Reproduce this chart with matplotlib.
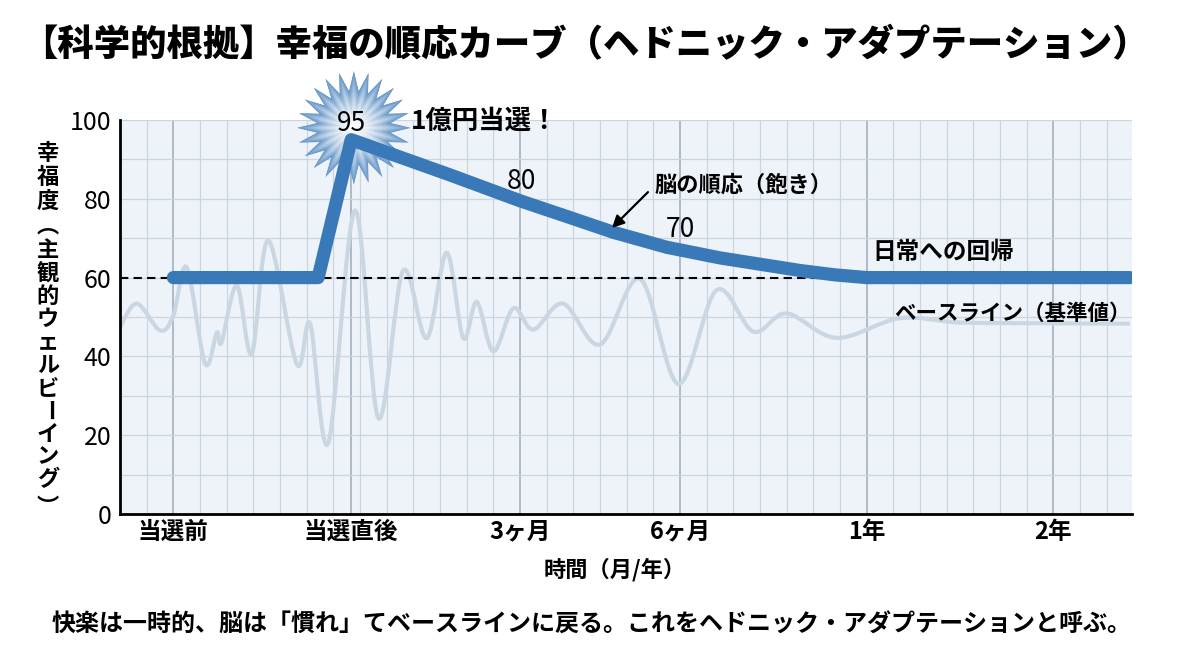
import numpy as np
import matplotlib
matplotlib.use("Agg")
import matplotlib.pyplot as plt
from matplotlib.path import Path
from matplotlib.patches import PathPatch, Polygon
from matplotlib.transforms import ScaledTranslation
from matplotlib.colors import to_rgb

plt.rcParams['font.family'] = ['Noto Sans CJK JP', 'DejaVu Sans']

# x is measured in light grid columns, 0 = "当選前"
tick_pos = [0, 6.67, 13, 19, 26, 33]
tick_labels = ["当選前", "当選直後", "3ヶ月", "6ヶ月", "1年", "2年"]

# main happiness curve
curve_x = [0, 5.43, 6.67, 10.4, 13, 14.76, 16.5, 18.5, 20.5, 23.5, 24.8, 26, 35.87]
curve_y = [60, 60, 95, 86.0, 79.5, 75.5, 71.5, 67.7, 65.0, 61.8, 60.7, 60, 60]

# faint daily fluctuation in the background
noise_x = [-2.0, -1.37, -0.5, 0, 0.5, 1.19, 1.63, 1.81, 2.38, 2.94, 3.56, 4.63,
           5.13, 5.81, 6.81, 7.69, 8.61, 9.5, 10.25, 10.87, 11.38, 12.0, 12.75,
           13.5, 14.62, 16.0, 17.5, 18.94, 20.37, 21.75, 23.0, 24.87, 27.25,
           29.5, 32.87, 35.87]
noise_y = [47.4, 53.4, 46.6, 50.4, 62.6, 38.2, 46, 43.6, 58, 40.7, 69.4, 38,
           48.3, 18, 77, 24.3, 61.7, 44.6, 66.3, 44.7, 53.8, 41.3, 52.2, 46.8,
           53.4, 43, 59.7, 33, 56.8, 46.3, 50.9, 44.7, 49.7, 48.6, 48.4, 48.3]

baseline = 60
peak_x, peak_y = 6.67, 95

BLUE = "#3a79b7"
GRID = "#cbd5df"


def smooth_path(xs, ys):
    # catmull-rom -> cubic bezier, so the wiggle is drawn smooth
    pts = np.column_stack([xs, ys]).astype(float)
    p = np.vstack([pts[0], pts, pts[-1]])
    verts = [pts[0]]
    codes = [Path.MOVETO]
    for i in range(1, len(p) - 2):
        c1 = p[i] + (p[i + 1] - p[i - 1]) / 6
        c2 = p[i + 1] - (p[i + 2] - p[i]) / 6
        verts += [c1, c2, p[i + 1]]
        codes += [Path.CURVE4] * 3
    return Path(verts, codes)


fig = plt.figure(figsize=(12, 6.55), dpi=100)
ax = fig.add_axes([0.1, 0.2153, 0.8433, 0.6015])
ax.set_facecolor("#edf3f9")
ax.set_xlim(-2, 35.95)
ax.set_ylim(0, 100)

ax.set_xticks(tick_pos)
ax.set_xticklabels(tick_labels, fontsize=17, fontweight="bold")
ax.set_xticks(np.arange(-2, 36), minor=True)
ax.set_yticks(np.arange(0, 101, 20))
ax.set_yticks(np.arange(0, 101, 10), minor=True)
ax.tick_params(which="both", length=0)
ax.tick_params(axis="x", pad=4)
ax.tick_params(axis="y", pad=6, labelsize=18)
ax.grid(which="minor", color=GRID, lw=0.9)
ax.grid(which="major", axis="y", color=GRID, lw=0.9)
ax.grid(which="major", axis="x", color="#9eabb8", lw=1.1)
ax.set_axisbelow(True)
for s in ("top", "right"):
    ax.spines[s].set_visible(False)
for s in ("left", "bottom"):
    ax.spines[s].set_linewidth(2)
    ax.spines[s].set_color("black")

ax.add_patch(PathPatch(smooth_path(noise_x, noise_y), fill=False,
                       edgecolor="#cad7e3", lw=3, zorder=2))

ax.plot([-2, 26], [baseline, baseline], color="black", lw=1.5,
        dashes=(4, 2.5), zorder=3)

# starburst behind the peak
n_sp = 24
ang = np.linspace(0, 2 * np.pi, 2 * n_sp, endpoint=False) + np.pi / 2
rad = np.where(np.arange(2 * n_sp) % 2 == 0, 0.57, 0.37)
star = np.column_stack([rad * np.cos(ang), rad * np.sin(ang)])
star_tr = fig.dpi_scale_trans + ScaledTranslation(peak_x + 0.1, 98.0, ax.transData)
tip = np.array(to_rgb("#6596c8"))
white = np.array([1.0, 1.0, 1.0])
steps = 40
for k in range(steps):
    s = 1 - k / steps
    t = s ** 1.5
    col = white * (1 - t) + tip * t
    ax.add_patch(Polygon(star * s, closed=True, facecolor=col, edgecolor="none",
                         transform=star_tr, clip_on=False, zorder=3.5))

ax.plot(curve_x, curve_y, color=BLUE, lw=9.5, solid_capstyle="round",
        solid_joinstyle="round", zorder=5)

ax.text(peak_x, 99.0, "95", fontsize=19, ha="center", va="center", zorder=6)
ax.text(8.91, 99.7, "1億円当選！", fontsize=19, fontweight="bold", ha="left",
        va="center", clip_on=False, zorder=6)
ax.text(13.07, 84.3, "80", fontsize=19, ha="center", va="center", zorder=6)
ax.text(19.0, 72.1, "70", fontsize=19, ha="center", va="center", zorder=6)
ax.text(18.06, 83.5, "脳の順応（飽き）", fontsize=16, fontweight="bold",
        ha="left", va="center", zorder=6)
ax.annotate("", xy=(16.45, 72.6), xytext=(17.8, 81.7),
            arrowprops=dict(arrowstyle="-|>", color="black", lw=1.6,
                            mutation_scale=18, shrinkA=0, shrinkB=0), zorder=6)
ax.text(26.2, 66.5, "日常への回帰", fontsize=17, fontweight="bold",
        ha="left", va="center", zorder=6)
ax.text(35.9, 51.0, "ベースライン（基準値）", fontsize=15.5, fontweight="bold",
        ha="right", va="center", zorder=6)

# vertical y label, one character at a time (vertical forms for the brackets)
ylab = ["幸", "福", "度", "︵", "主", "観", "的", "ウ", "ェ", "ル", "ビ", "ー",
        "イ", "ン", "グ", "︶"]
ylab_py = [153, 177, 201, 226] + [251 + 22.9 * i for i in range(11)] + [508]
for ch, py in zip(ylab, ylab_py):
    fig.text(48 / 1200, 1 - py / 655, ch, fontsize=16, fontweight="bold",
             ha="center", va="center", rotation=-90 if ch == "ー" else 0)

fig.text(0.4875, 1 - 45 / 655,
         "【科学的根拠】幸福の順応カーブ（ヘドニック・アダプテーション）",
         fontsize=26.2, fontweight="heavy", ha="center", va="center")
fig.text(615 / 1200, 1 - 570 / 655, "時間（月/年）", fontsize=16,
         fontweight="bold", ha="center", va="center")
fig.text(592 / 1200, 1 - 625 / 655,
         "快楽は一時的、脳は「慣れ」てベースラインに戻る。これをヘドニック・アダプテーションと呼ぶ。",
         fontsize=17.3, fontweight="bold", ha="center", va="center")

fig.savefig("out.png", dpi=100)
